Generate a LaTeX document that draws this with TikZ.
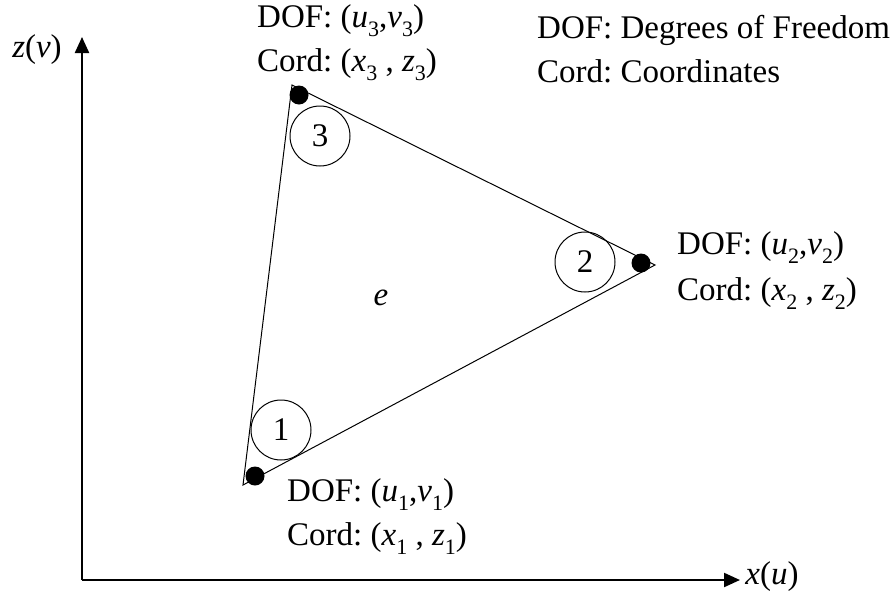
\documentclass[tikz,border=0pt]{standalone}
\usepackage{fontspec}
\setmainfont{Liberation Serif}
\usetikzlibrary{arrows.meta}
\frenchspacing
\newcommand\sv[2]{\textit{#1}\raisebox{-0.3em}{\fontsize{22}{22}\selectfont #2}}
\begin{document}
\begin{tikzpicture}[x=1pt,y=-1pt,
  txt/.style={inner sep=0pt,anchor=base west,font=\fontsize{33}{40}\selectfont},
  num/.style={circle,draw,line width=1pt,minimum size=60pt,inner sep=0pt,font=\fontsize{33}{40}\selectfont},
  dot/.style={circle,fill=black,minimum size=19pt,inner sep=0pt},
  axis/.style={line width=2.2pt,-{Triangle[length=16pt,width=14pt]}},
  edge/.style={line width=1pt}]
\useasboundingbox (0,0) rectangle (892,595);
% axes
\coordinate (O) at (82,580);
\coordinate (ytip) at (82,37);
\coordinate (xtip) at (740,580);
\draw[axis] (O) -- (ytip);
\draw[axis] (O) -- (xtip);
\node[txt,anchor=center] (zl) at (37,50) {\textit{z}(\textit{v})};
\node[txt,anchor=center] (xl) at (772,577) {\textit{x}(\textit{u})};
% triangle
\coordinate (n1) at (243,485);
\coordinate (n2) at (655,265);
\coordinate (n3) at (292,85);
\draw[edge] (n1) -- (n2) -- (n3) -- cycle;
% dots
\node[dot] (d1) at (255,476) {};
\node[dot] (d2) at (641,263) {};
\node[dot] (d3) at (299,95) {};
% numbered circles
\node[num] (c1) at (281,430) {1};
\node[num] (c2) at (585,262) {2};
\node[num] (c3) at (320,136) {3};
\node[txt,anchor=center] (e) at (381,298) {\textit{e}};
% labels node 3
\node[txt] (dof3) at (257,27) {DOF: (\sv{u}{3},\sv{v}{3})};
\node[txt] (cord3) at (257,71) {Cord: (\sv{x}{3} , \sv{z}{3})};
% labels node 2
\node[txt] (dof2) at (677,254) {DOF: (\sv{u}{2},\sv{v}{2})};
\node[txt] (cord2) at (677,300) {Cord: (\sv{x}{2} , \sv{z}{2})};
% labels node 1
\node[txt] (dof1) at (287,501) {DOF: (\sv{u}{1},\sv{v}{1})};
\node[txt] (cord1) at (287,545) {Cord: (\sv{x}{1} , \sv{z}{1})};
% legend
\node[txt] (leg1) at (537,38) {DOF: Degrees of Freedom};
\node[txt] (leg2) at (537,82) {Cord: Coordinates};
\end{tikzpicture}
\end{document}
